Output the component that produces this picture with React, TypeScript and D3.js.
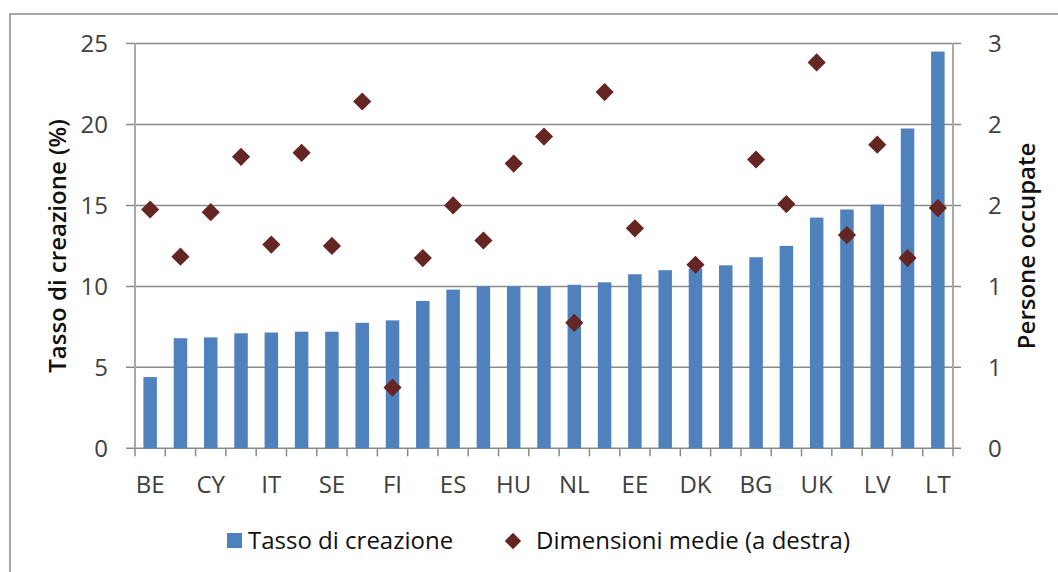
import React from "react";
import * as d3 from "d3";

const categories = ["BE", "", "CY", "", "IT", "", "SE", "", "FI", "", "ES", "", "HU", "", "NL", "", "EE", "", "DK", "", "BG", "", "UK", "", "LV", "", "LT"];
const tassoCreazione = [4.4, 6.8, 6.85, 7.1, 7.15, 7.2, 7.2, 7.75, 7.9, 9.1, 9.8, 10.0, 10.0, 10.0, 10.1, 10.25, 10.75, 11.0, 11.1, 11.3, 11.8, 12.5, 14.25, 14.75, 15.05, 19.75, 24.5];
const dimensioniMedie: (number | null)[] = [1.77, 1.42, 1.75, 2.16, 1.51, 2.19, 1.5, 2.57, 0.45, 1.41, 1.8, 1.54, 2.11, 2.31, 0.93, 2.64, 1.63, null, 1.36, null, 2.14, 1.81, 2.86, 1.58, 2.25, 1.41, 1.78];
const leftTicks = [0, 5, 10, 15, 20, 25];
const rightTicks = [0, 0.6, 1.2, 1.8, 2.4, 3.0];
const seriesNames = ["Tasso di creazione", "Dimensioni medie (a destra)"];
const axisTitles = ["Tasso di creazione (%)", "Persone occupate"];

const W = 1058, H = 572;
const M = { left: 135, right: 953, top: 43.5, bottom: 448.3 };
const FONT = "'Open Sans', sans-serif";
const BAR = "#4F81BD";
const MARK = "#652523";
const GRID = "#8a8a8a";

export default function App() {
  const idx = d3.range(categories.length);
  const x = d3.scaleBand<number>().domain(idx).range([M.left, M.right]).paddingInner(0).paddingOuter(0);
  const yL = d3.scaleLinear().domain([0, 25]).range([M.bottom, M.top]);
  const yR = d3.scaleLinear().domain([0, 3]).range([M.bottom, M.top]);
  const barW = 13.5;
  const diamond = d3.symbol().type(d3.symbolSquare).size(165)();
  const legendDiamond = d3.symbol().type(d3.symbolSquare).size(135)();
  const fmtR = d3.format(".0f");
  const bw = x.bandwidth();
  const midY = (M.top + M.bottom) / 2;

  return (
    <svg width={W} height={H} style={{ position: "absolute", left: 0, top: 0, background: "#fff" }} fontFamily={FONT}>
      <rect x={10} y={14} width={W + 20} height={H + 20} fill="#fff" stroke="#8c8c8c" strokeWidth={1.5} />
      {/* gridlines */}
      {leftTicks.map((t) => (
        <line key={"g" + t} x1={M.left - 9} x2={M.right + 8} y1={yL(t)} y2={yL(t)} stroke={GRID} strokeWidth={1.5} />
      ))}
      {/* axes */}
      <line x1={M.left} x2={M.left} y1={M.top} y2={M.bottom} stroke="#a8a8a8" strokeWidth={2} />
      <line x1={M.right} x2={M.right} y1={M.top} y2={M.bottom} stroke="#a8a8a8" strokeWidth={2} />
      {/* x ticks */}
      {d3.range(categories.length + 1).map((i) => {
        const xx = M.left + i * bw;
        return <line key={"xt" + i} x1={xx} x2={xx} y1={M.bottom} y2={M.bottom + 8} stroke={GRID} strokeWidth={1.5} />;
      })}
      {/* bars */}
      {tassoCreazione.map((v, i) => (
        <rect key={"b" + i} x={(x(i) as number) + bw / 2 - barW / 2} y={yL(v)} width={barW} height={yL(0) - yL(v)} fill={BAR} />
      ))}
      {/* markers */}
      {dimensioniMedie.map((v, i) =>
        v == null ? null : (
          <path key={"m" + i} d={diamond as string} transform={`translate(${(x(i) as number) + bw / 2},${yR(v)}) rotate(45)`} fill={MARK} />
        )
      )}
      {/* left tick labels */}
      {leftTicks.map((t) => (
        <text key={"lt" + t} x={108} y={yL(t)} dy="0.35em" textAnchor="end" fontSize={24} fill="#404040">
          {t}
        </text>
      ))}
      {/* right tick labels */}
      {rightTicks.map((t, i) => (
        <text key={"rt" + i} x={988} y={yR(t)} dy="0.35em" textAnchor="start" fontSize={24} fill="#404040">
          {fmtR(t)}
        </text>
      ))}
      {/* x labels */}
      {categories.map((c, i) =>
        c ? (
          <text key={"xl" + i} x={(x(i) as number) + bw / 2} y={493} textAnchor="middle" fontSize={24} fill="#404040">
            {c}
          </text>
        ) : null
      )}
      {/* axis titles */}
      <text transform={`translate(66,${midY}) rotate(-90)`} textAnchor="middle" fontSize={24} fontWeight={600} fill="#111">
        {axisTitles[0]}
      </text>
      <text transform={`translate(1035,${midY}) rotate(-90)`} textAnchor="middle" fontSize={24} fontWeight={600} fill="#111">
        {axisTitles[1]}
      </text>
      {/* legend */}
      <rect x={227} y={533} width={15} height={15} fill={BAR} />
      <text x={248} y={549} fontSize={24} fill="#111">{seriesNames[0]}</text>
      <path d={legendDiamond as string} transform={`translate(513,541) rotate(45)`} fill={MARK} />
      <text x={536} y={549} fontSize={24} fill="#111">{seriesNames[1]}</text>
    </svg>
  );
}
